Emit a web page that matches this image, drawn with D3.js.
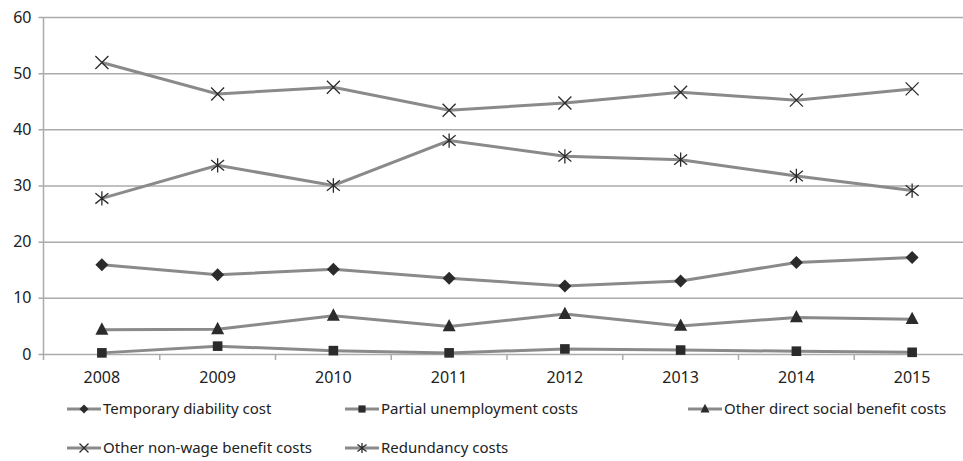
<!DOCTYPE html>
<html>
<head>
<meta charset="utf-8">
<script src="https://cdn.jsdelivr.net/npm/d3@7"></script>
<style>
  body { margin: 0; background: #fff; }
  svg { display: block; font-family: "Noto Sans", sans-serif; }
</style>
</head>
<body>
<div id="chart"></div>
<script>
const width = 963;
const height = 461;

const years = ["2008", "2009", "2010", "2011", "2012", "2013", "2014", "2015"];
const yTicks = [0, 10, 20, 30, 40, 50, 60];

const temporaryDiability = [15.9, 14.1, 15.1, 13.5, 12.1, 13.0, 16.3, 17.2];
const partialUnemployment = [0.2, 1.4, 0.6, 0.2, 0.9, 0.7, 0.5, 0.3];
const otherDirectSocial = [4.3, 4.4, 6.8, 4.9, 7.1, 5.0, 6.5, 6.2];
const otherNonWage = [51.9, 46.3, 47.5, 43.4, 44.7, 46.6, 45.2, 47.2];
const redundancy = [27.7, 33.6, 30.0, 38.0, 35.2, 34.6, 31.7, 29.1];

const seriesNames = [
  "Temporary diability cost",
  "Partial unemployment costs",
  "Other direct social benefit costs",
  "Other non-wage benefit costs",
  "Redundancy costs"
];
const seriesValues = [temporaryDiability, partialUnemployment, otherDirectSocial, otherNonWage, redundancy];
const seriesMarkers = ["diamond", "square", "triangle", "cross", "star"];

const lineColor = "#8a8a8a";
const markColor = "#2b2b2b";
const gridColor = "#ababab";
const textColor = "#222";

const svg = d3.select("#chart").append("svg")
  .attr("width", width)
  .attr("height", height);

const x = d3.scaleBand()
  .domain(years)
  .range([44, 970])
  .paddingInner(0)
  .paddingOuter(0);

const y = d3.scaleLinear()
  .domain([0, 60])
  .range([354, 17]);

const cx = (yr) => x(yr) + x.bandwidth() / 2;

// gridlines + y axis
const yAxis = d3.axisLeft(y).tickValues(yTicks).tickSize(5).tickPadding(7);
const gy = svg.append("g").attr("transform", "translate(43.5,0)").call(yAxis);
gy.select(".domain").remove();
gy.selectAll(".tick line").attr("stroke", gridColor).attr("stroke-width", 1.5)
  .attr("x1", -5).attr("x2", width);
gy.selectAll(".tick text").attr("fill", textColor).style("font-size", "16px")
  .attr("font-family", "Noto Sans, sans-serif");

svg.append("line")
  .attr("x1", 43.5).attr("x2", 43.5)
  .attr("y1", y(60)).attr("y2", y(0) + 6)
  .attr("stroke", gridColor).attr("stroke-width", 1.5);

// x axis ticks sit on the band edges
const gx = svg.append("g").attr("transform", `translate(0,${y(0)})`);
gx.selectAll("line.sep")
  .data(years.slice(1))
  .enter()
  .append("line")
  .attr("class", "sep")
  .attr("x1", d => x(d)).attr("x2", d => x(d))
  .attr("y1", 0).attr("y2", 6)
  .attr("stroke", gridColor).attr("stroke-width", 1.5);
gx.selectAll("text")
  .data(years)
  .enter()
  .append("text")
  .attr("x", d => cx(d))
  .attr("y", 29)
  .attr("text-anchor", "middle")
  .attr("fill", textColor)
  .style("font-size", "16px")
  .text(d => d);

const drawMarker = (sel, type, size) => {
  const s = size;
  if (type === "diamond") {
    sel.append("path").attr("d", `M0,${-s}L${s},0L0,${s}L${-s},0Z`).attr("fill", markColor);
  } else if (type === "square") {
    sel.append("rect").attr("x", -s * 0.8).attr("y", -s * 0.8)
      .attr("width", s * 1.6).attr("height", s * 1.6).attr("fill", markColor);
  } else if (type === "triangle") {
    sel.append("path").attr("d", `M0,${-s * 1.15}L${s},${s * 0.75}L${-s},${s * 0.75}Z`).attr("fill", markColor);
  } else if (type === "cross") {
    sel.append("path").attr("d", `M${-s},${-s}L${s},${s}M${-s},${s}L${s},${-s}`)
      .attr("stroke", markColor).attr("stroke-width", 1.3).attr("fill", "none");
  } else if (type === "star") {
    sel.append("path").attr("d", `M${-s},${-s * 0.8}L${s},${s * 0.8}M${-s},${s * 0.8}L${s},${-s * 0.8}M0,${-s * 1.1}L0,${s * 1.1}`)
      .attr("stroke", markColor).attr("stroke-width", 1.3).attr("fill", "none");
  }
};

const line = d3.line()
  .x((d, i) => cx(years[i]))
  .y(d => y(d));

seriesValues.forEach((vals, k) => {
  const g = svg.append("g");
  g.append("path")
    .datum(vals)
    .attr("d", line)
    .attr("fill", "none")
    .attr("stroke", lineColor)
    .attr("stroke-width", 3);
  vals.forEach((v, i) => {
    const m = g.append("g").attr("transform", `translate(${cx(years[i])},${y(v)})`);
    drawMarker(m, seriesMarkers[k], seriesMarkers[k] === "square" ? 6 : 6.5);
  });
});

// legend
const legendCols = [67, 345, 688];
const legendRows = [409, 448];
seriesNames.forEach((name, k) => {
  const lx = legendCols[k % 3];
  const ly = legendRows[Math.floor(k / 3)];
  const lg = svg.append("g").attr("transform", `translate(${lx},${ly})`);
  lg.append("line")
    .attr("x1", 0).attr("x2", 34)
    .attr("y1", 0).attr("y2", 0)
    .attr("stroke", lineColor).attr("stroke-width", 3);
  const m = lg.append("g").attr("transform", "translate(17,0)");
  drawMarker(m, seriesMarkers[k], 4.5);
  lg.append("text")
    .attr("x", 36)
    .attr("y", 0)
    .attr("dy", "0.35em")
    .attr("fill", textColor)
    .style("font-size", "15px")
    .text(name);
});
</script>
</body>
</html>
